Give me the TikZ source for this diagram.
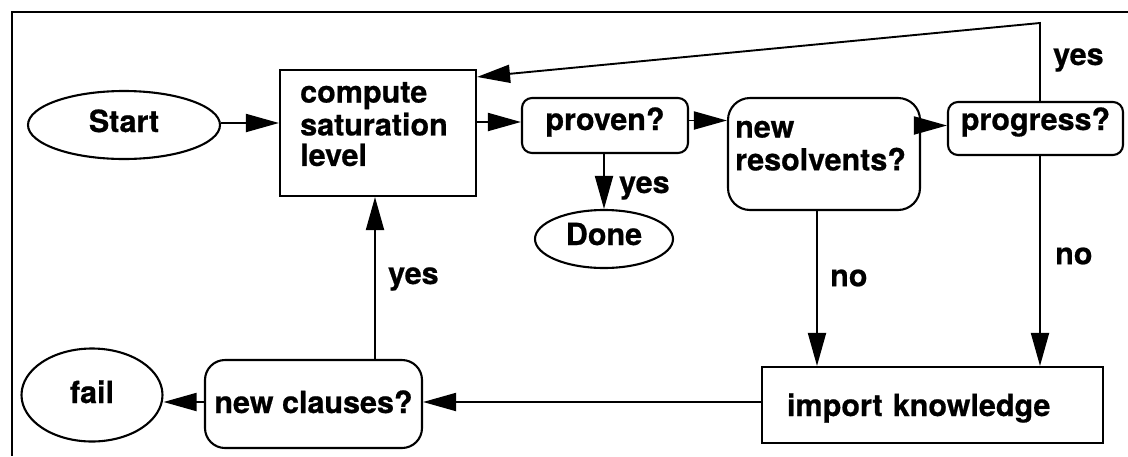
\documentclass[tikz,border=0pt]{standalone}
\usepackage{fontspec}
\setmainfont{TeX Gyre Heros}[BoldFeatures={FakeBold=0.6}]
\usetikzlibrary{arrows.meta,shapes.geometric,calc}
\tikzset{
  base/.style={draw=black, line width=2.1pt, inner sep=0pt, text height=22pt, font=\bfseries\fontsize{30.5}{30}\selectfont},
  oval/.style={base, ellipse},
  sqbox/.style={base, rectangle},
  rbox/.style={base, rectangle, rounded corners=#1},
  txt/.style={inner sep=0pt, font=\bfseries\fontsize{30.5}{30.5}\selectfont, align=left},
  conn/.style={line width=1.9pt},
  arr/.style={conn, -{Triangle[length=33pt,width=18pt]}},
  frame/.style={line width=2pt}
}
\begin{document}
\begin{tikzpicture}[x=1pt,y=-1pt]
\useasboundingbox (0,0) rectangle (1128,456);
\fill[white] (0,0) rectangle (1128,456);
% frame
\coordinate (f1) at (12,12);
\coordinate (f2) at (1128,12);
\coordinate (f3) at (12,456);
\draw[frame] (f2) -- (f1) -- (f3);

% nodes
\node[oval, minimum width=192pt, minimum height=68pt, text depth=8pt] (start) at (124,125) {Start};
\node[sqbox, minimum width=196pt, minimum height=126pt] (comp) at (378,133) {};
\node[txt, anchor=north west] (compt) at (300,81) {\strut compute\\saturation\\level};
\node[rbox=10pt, minimum width=166pt, minimum height=55pt, text depth=13pt] (proven) at (605,125.5) {proven?};
\node[oval, minimum width=138pt, minimum height=58pt, text depth=10pt] (done) at (604,239) {Done};
\node[rbox=22pt, minimum width=192pt, minimum height=112pt] (newres) at (824,154) {};
\node[txt, anchor=north west] (newrest) at (735,116) {\strut new\\resolvents?};
\node[rbox=10pt, minimum width=175pt, minimum height=53pt, text depth=19pt] (progress) at (1035.5,128.5) {progress?};
\node[sqbox, minimum width=341pt, minimum height=76pt, text depth=0pt, text width=291pt, inner xsep=25pt, align=left] (import) at (932.5,405) {import knowledge};
\node[rbox=20pt, minimum width=217pt, minimum height=88pt, text depth=4pt] (newcl) at (313.5,404) {new clauses?};
\node[oval, minimum width=141pt, minimum height=93pt, text depth=6pt] (fail) at (92,395) {fail};

% connectors
\draw[arr] ($(start.east)+(0,-2)$) -- ($(start.east -| comp.west)+(0,-2)$);
\draw[arr] ($(comp.east)+(0,-11)$) -- ($(comp.east -| proven.west)+(0,-11)$);
\draw[arr] (proven.south -| done.north) -- (done.north);
\draw[arr] ($(proven.east)+(0,-5)$) -- ($(proven.east -| newres.west)+(0,-5)$);
\draw[arr] ($(progress.west -| newres.east)+(0,-3)$) -- ($(progress.west)+(0,-3)$);

\coordinate (fb) at (1040,23);
\coordinate (fbin) at ($(comp.north east)+(0,8)$);
\draw[arr] (progress.north -| fb) -- (fb) -- (fbin);
\draw[arr] (progress.south -| fb) -- (import.north -| fb);
\coordinate (nrx) at (817,0);
\draw[arr] (newres.south -| nrx) -- (import.north -| nrx);
\draw[arr] ($(import.west)+(0,-3)$) -- ($(import.west -| newcl.east)+(0,-3)$);
\draw[arr] ($(newcl.west)+(0,-2)$) -- ($(newcl.west -| fail.east)+(0,-2)$);
\coordinate (ncx) at (375,0);
\draw[arr] (newcl.north -| ncx) -- (comp.south -| ncx);

% labels
\node[txt, anchor=base west] (l1) at (619,193) {yes};
\node[txt, anchor=base west] (l2) at (1053,65) {yes};
\node[txt, anchor=west] (l3) at (830,278) {no};
\node[txt, anchor=west] (l4) at (1055,256) {no};
\node[txt, anchor=west] (l5) at (388,279) {yes};
\end{tikzpicture}
\end{document}
